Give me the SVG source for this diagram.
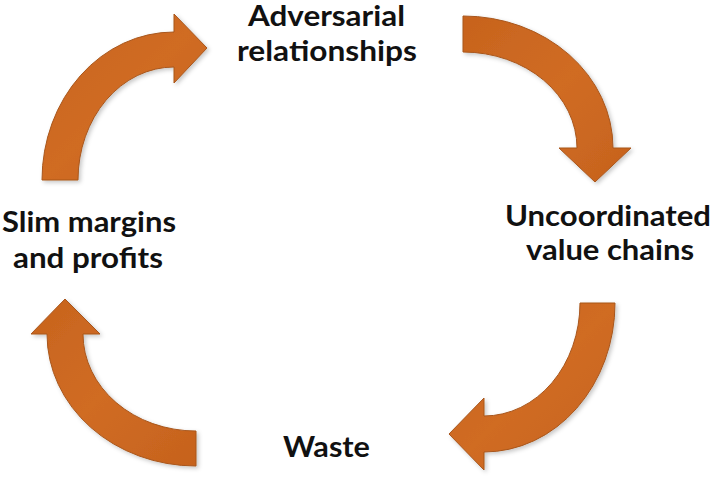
<svg xmlns="http://www.w3.org/2000/svg" width="721" height="480" viewBox="0 0 721 480">
  <style>
    .arrow { stroke: #A8561B; stroke-width: 1; filter: url(#shadow); }
    .label { font-family: Lato, "Open Sans", "Liberation Sans", sans-serif; font-weight: bold; font-size: 29px; fill: #111; text-anchor: middle; }
  </style>
  <defs>
    <linearGradient id="orange" x1="0" y1="0" x2="1" y2="1">
      <stop offset="0" stop-color="#C7631D"/>
      <stop offset="0.5" stop-color="#D06C24"/>
      <stop offset="1" stop-color="#C6621D"/>
    </linearGradient>
    <filter id="shadow" x="-10%" y="-10%" width="125%" height="125%">
      <feDropShadow dx="2" dy="2" stdDeviation="2" flood-color="#000" flood-opacity="0.22"/>
    </filter>
  </defs>

  <!-- curved cycle arrows -->
  <g id="connectors" fill="url(#orange)">
    <path class="arrow" d="M42,180 A132,148 0 0 1 174,32 L174,14 L207,48 L174,83 L174,67 A96,113 0 0 0 78,180 Z"/>
    <path class="arrow" d="M463,16 A150,132 0 0 1 613,148 L631,148 L595,182 L559,148 L577,148 A114,96 0 0 0 463,52 Z"/>
    <path class="arrow" d="M615,303 A131,149 0 0 1 484,452 L484,470 L449,434 L484,398 L484,416 A96,113 0 0 0 580,303 Z"/>
    <path class="arrow" d="M196,466 A149,132 0 0 1 47,334 L31,334 L65,299 L100,334 L83,334 A113,97 0 0 0 196,431 Z"/>
  </g>

  <g id="adversarial">
    <text class="label" x="326.5" y="26" textLength="157" lengthAdjust="spacingAndGlyphs">Adversarial</text>
    <text class="label" x="327" y="61" textLength="180" lengthAdjust="spacingAndGlyphs">relationships</text>
  </g>
  <g id="uncoordinated">
    <text class="label" x="608" y="226" textLength="206" lengthAdjust="spacingAndGlyphs">Uncoordinated</text>
    <text class="label" x="610" y="260" textLength="168" lengthAdjust="spacingAndGlyphs">value chains</text>
  </g>
  <g id="waste">
    <text class="label" x="326.5" y="457" textLength="87" lengthAdjust="spacingAndGlyphs">Waste</text>
  </g>
  <g id="slim-margins">
    <text class="label" x="89" y="232" textLength="174" lengthAdjust="spacingAndGlyphs">Slim margins</text>
    <text class="label" x="88" y="268" textLength="150" lengthAdjust="spacingAndGlyphs">and profits</text>
  </g>
</svg>
